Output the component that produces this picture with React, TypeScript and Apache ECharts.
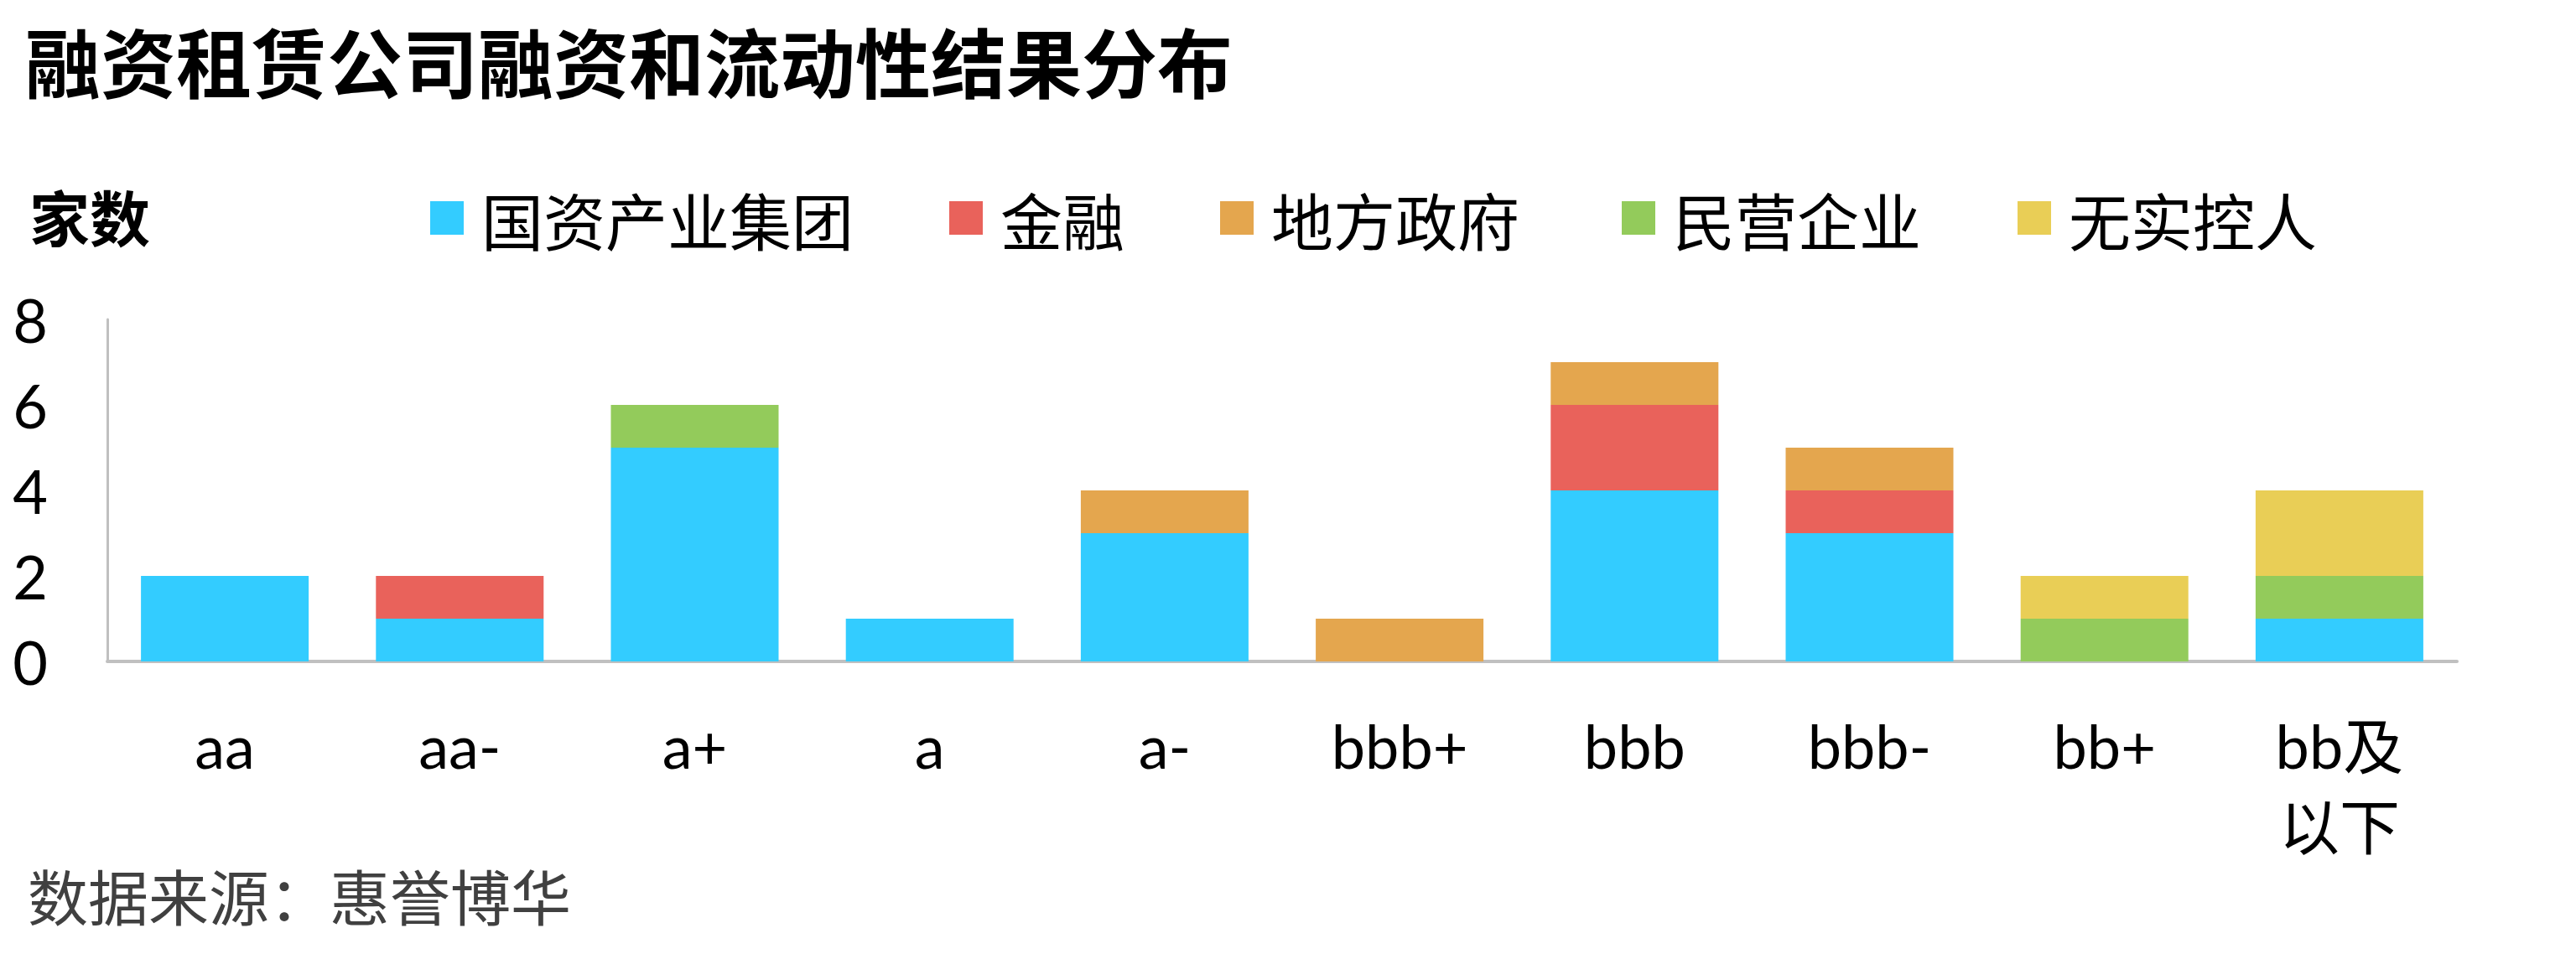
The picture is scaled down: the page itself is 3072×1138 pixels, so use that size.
import React, { useEffect, useRef } from "react";
import * as echarts from "echarts";

const categories = ["aa", "aa-", "a+", "a", "a-", "bbb+", "bbb", "bbb-", "bb+", "bb及\n以下"];
const seriesNames = ["国资产业集团", "金融", "地方政府", "民营企业", "无实控人"];
const stateOwned = [2, 1, 5, 1, 3, 0, 4, 3, 0, 1];
const financial = [0, 1, 0, 0, 0, 0, 2, 1, 0, 0];
const localGov = [0, 0, 0, 0, 1, 1, 1, 1, 0, 0];
const privateEnt = [0, 0, 1, 0, 0, 0, 0, 0, 1, 1];
const noController = [0, 0, 0, 0, 0, 0, 0, 0, 1, 2];
const seriesValues = [stateOwned, financial, localGov, privateEnt, noController];
const colors = ["#33CCFF", "#E9625B", "#E4A64E", "#93CB5B", "#E9CE56"];
const yTicks = [0, 2, 4, 6, 8];

const legendLefts = [513, 1132, 1455, 1934, 2406];
const CJK = "'Noto Sans CJK SC', sans-serif";
const LATIN = "Lato, 'Noto Sans CJK SC', sans-serif";

export default function App() {
  const ref = useRef<HTMLDivElement>(null);
  useEffect(() => {
    if (!ref.current) return;
    const chart = echarts.init(ref.current, null, { renderer: "svg" });
    chart.setOption({
      animation: false,
      backgroundColor: "#ffffff",
      color: colors,
      graphic: [
        {
          type: "text",
          left: 30,
          top: 26,
          style: {
            text: "融资租赁公司融资和流动性结果分布",
            font: `bold 90px ${CJK}`,
            fill: "#000000",
          },
        },
        {
          type: "text",
          left: 35,
          top: 220,
          style: {
            text: "家数",
            font: `bold 72px ${CJK}`,
            fill: "#000000",
          },
        },
        {
          type: "text",
          left: 33,
          top: 1030,
          style: {
            text: "数据来源：惠誉博华",
            font: `72px ${CJK}`,
            fill: "#404040",
          },
        },
      ],
      legend: seriesNames.map((name, i) => ({
        data: [name],
        left: legendLefts[i],
        top: 220,
        padding: 0,
        itemWidth: 40,
        itemHeight: 40,
        icon: "rect",
        textStyle: {
          fontSize: 74,
          fontFamily: CJK,
          color: "#000000",
          lineHeight: 80,
          padding: [0, 0, 0, 16],
        },
      })),
      grid: { left: 128, right: 142, top: 381, bottom: 349 },
      xAxis: {
        type: "category",
        data: categories,
        axisLine: { show: true, lineStyle: { color: "#C0C0C0", width: 4 } },
        axisTick: { show: false },
        axisLabel: {
          interval: 0,
          margin: 52,
          fontSize: 72,
          fontFamily: LATIN,
          color: "#000000",
          lineHeight: 96,
        },
      },
      yAxis: {
        type: "value",
        min: 0,
        max: yTicks[yTicks.length - 1],
        interval: 2,
        axisLine: { show: true, lineStyle: { color: "#C0C0C0", width: 3 } },
        axisTick: { show: false },
        splitLine: { show: false },
        axisLabel: {
          margin: 71,
          fontSize: 72,
          fontFamily: LATIN,
          color: "#000000",
        },
      },
      series: seriesNames.map((name, i) => ({
        name,
        type: "bar",
        stack: "total",
        barWidth: 200,
        data: seriesValues[i],
        itemStyle: { color: colors[i] },
      })),
    });
    return () => chart.dispose();
  }, []);
  return (
    <div
      ref={ref}
      style={{ position: "absolute", left: 0, top: 0, width: 3072, height: 1138 }}
    />
  );
}
